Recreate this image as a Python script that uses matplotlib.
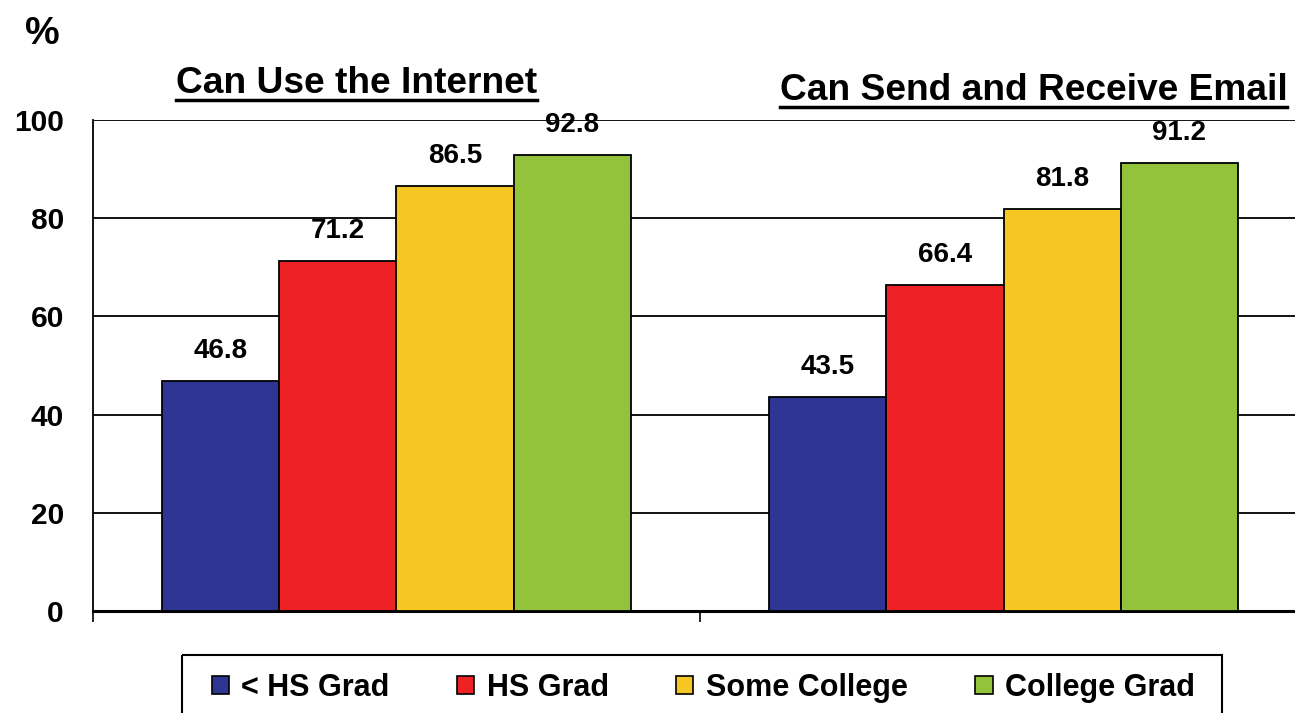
import matplotlib
matplotlib.use('Agg')
import matplotlib.pyplot as plt
from matplotlib.lines import Line2D
from matplotlib.patches import Patch, Rectangle

plt.rcParams['font.family'] = ['Liberation Sans', 'DejaVu Sans']
plt.rcParams['font.weight'] = 'bold'

panels = ['Can Use the Internet', 'Can Send and Receive Email']
levels = ['< HS Grad', 'HS Grad', 'Some College', 'College Grad']
colors = ['#2E3592', '#EE2224', '#F6C622', '#93C33B']
values = [
    [46.8, 43.5],   # < HS Grad
    [71.2, 66.4],   # HS Grad
    [86.5, 81.8],   # Some College
    [92.8, 91.2],   # College Grad
]
yticks = [0, 20, 40, 60, 80, 100]

fig = plt.figure(figsize=(12.95, 7.13), dpi=100)
ax = fig.add_axes([0.0718, 0.1431, 0.9375, 0.6886])

width = 0.1928
for i, (name, col) in enumerate(zip(levels, colors)):
    xs = [g + (i - 1.5) * width for g in range(len(panels))]
    bars = ax.bar(xs, values[i], width, color=col, edgecolor='black',
                  linewidth=1.3, zorder=3, label=name)
    for b, v in zip(bars, values[i]):
        ax.annotate(f'{v:.1f}', (b.get_x() + b.get_width() / 2, v),
                    xytext=(0, 12.5), textcoords='offset points',
                    ha='center', va='bottom', fontsize=20, fontweight='bold')

ax.set_xlim(-0.5, 1.5)
ax.set_ylim(0, 100)
ax.set_yticks(yticks)
ax.set_yticklabels([str(t) for t in yticks], fontsize=21.5, fontweight='bold')
ax.tick_params(axis='y', length=0, pad=21)
ax.set_xticks([])
ax.set_xticks([-0.5, 0.5, 1.5], minor=True)
ax.tick_params(axis='x', which='minor', direction='out', length=8,
               width=1.2, color='black')
ax.yaxis.grid(True, color='black', linewidth=1.3, zorder=0)
ax.set_axisbelow(True)
for s in ['top', 'right']:
    ax.spines[s].set_visible(False)
ax.spines['left'].set_linewidth(1.3)
ax.spines['bottom'].set_linewidth(2.2)

fig.text(0.033, 0.952, '%', fontsize=28, fontweight='bold', ha='center', va='center')

# panel titles, underlined
title_pos = [(0.275, 0.869), (0.798, 0.860)]
titles = []
for t, (x, y) in zip(panels, title_pos):
    titles.append(fig.text(x, y, t, fontsize=26.7, fontweight='bold',
                           ha='center', va='baseline'))
fig.canvas.draw()
inv = fig.transFigure.inverted()
for t in titles:
    bb = t.get_window_extent().transformed(inv)
    _, ybase = t.get_position()
    yline = ybase - 0.0095
    fig.add_artist(Line2D([bb.x0, bb.x1], [yline, yline], color='black',
                          linewidth=2.5, transform=fig.transFigure))

# legend box drawn separately so it can run off the bottom edge
fig.add_artist(Rectangle((0.1405, 0.0815), 0.8035, -0.1, facecolor='none',
                         edgecolor='black', linewidth=1.5,
                         transform=fig.transFigure, zorder=1))
handles = [Patch(facecolor=c, edgecolor='black', linewidth=1.2) for c in colors]
leg = fig.legend(handles, levels, ncol=4, loc='center',
                 bbox_to_anchor=(0.5432, 0.0355), fontsize=22, frameon=False,
                 handlelength=0.56, handleheight=0.56, handletextpad=0.42,
                 columnspacing=2.2, borderaxespad=0, borderpad=0)
for txt in leg.get_texts():
    txt.set_fontweight('bold')

fig.savefig('out.png', dpi=100)
